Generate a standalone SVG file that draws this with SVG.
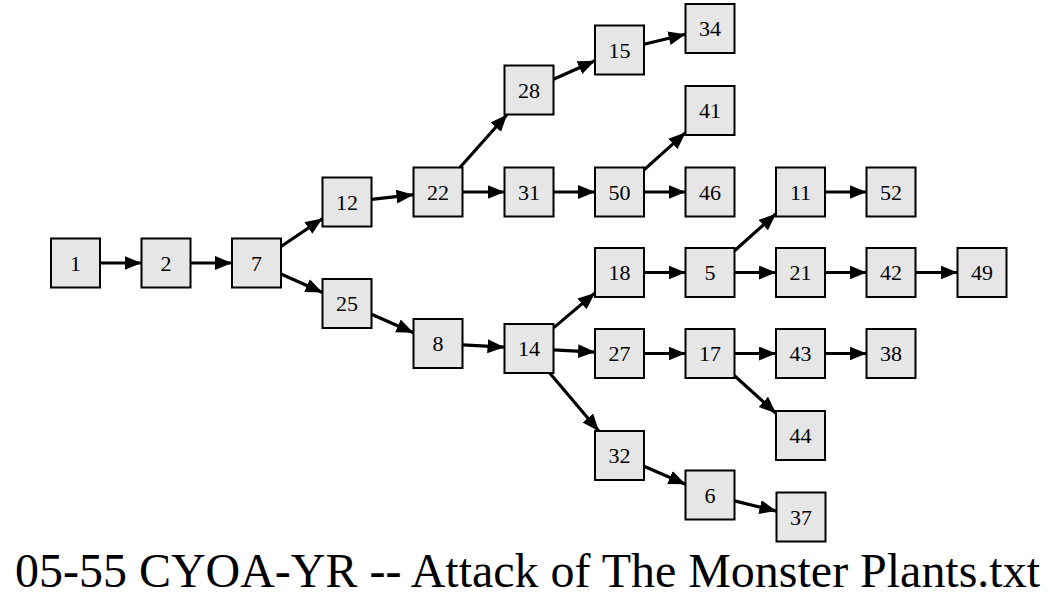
<svg xmlns="http://www.w3.org/2000/svg" width="1058" height="605" viewBox="0 0 1058 605">
<defs>
<marker id="ah" markerUnits="userSpaceOnUse" markerWidth="18" markerHeight="16" refX="17" refY="7" orient="auto" viewBox="0 0 18 16">
<path d="M0,0 L17,7 L0,14 z" fill="#000"/>
</marker>
</defs>
<rect width="1058" height="605" fill="#fff"/>
<g id="edges" stroke="#000" stroke-width="3.2" marker-end="url(#ah)">
<line x1="100" y1="263" x2="141.5" y2="263"/>
<line x1="190.5" y1="263" x2="232" y2="263"/>
<line x1="281" y1="246.5" x2="322.5" y2="218.5"/>
<line x1="281" y1="274" x2="322.5" y2="292.5"/>
<line x1="371.5" y1="199.3" x2="413.5" y2="194.7"/>
<line x1="459.9" y1="167.5" x2="507.1" y2="114.5"/>
<line x1="462.5" y1="192" x2="504.5" y2="192"/>
<line x1="553.5" y1="79.2" x2="595" y2="60.8"/>
<line x1="644" y1="44.2" x2="685.5" y2="34.3"/>
<line x1="553.5" y1="192" x2="595" y2="192"/>
<line x1="644" y1="169.9" x2="685.5" y2="132.6"/>
<line x1="644" y1="192" x2="685.5" y2="192"/>
<line x1="371.5" y1="314.3" x2="413.5" y2="332.7"/>
<line x1="462.5" y1="344.9" x2="504.5" y2="347.2"/>
<line x1="553.5" y1="327.9" x2="595" y2="292.9"/>
<line x1="553.5" y1="349.9" x2="595" y2="352.1"/>
<line x1="549.7" y1="373" x2="598.8" y2="431"/>
<line x1="644" y1="272.5" x2="685.5" y2="272.5"/>
<line x1="734.5" y1="250.7" x2="776" y2="213.8"/>
<line x1="734.5" y1="272.5" x2="776" y2="272.5"/>
<line x1="825" y1="192" x2="866.5" y2="192"/>
<line x1="825" y1="272.5" x2="866.5" y2="272.5"/>
<line x1="915.5" y1="272.5" x2="957.5" y2="272.5"/>
<line x1="644" y1="353.5" x2="685.5" y2="353.5"/>
<line x1="734.5" y1="353.5" x2="776" y2="353.5"/>
<line x1="734.5" y1="375.7" x2="776" y2="413.3"/>
<line x1="825" y1="353.5" x2="866.5" y2="353.5"/>
<line x1="644" y1="466.2" x2="685.5" y2="484.3"/>
<line x1="734.5" y1="500.9" x2="776.5" y2="511.1"/>
</g>
<g id="nodes" font-size="22" text-anchor="middle" fill="#e6e6e6" stroke="#000" stroke-width="2">
<g id="n1"><rect x="51" y="238.5" width="49" height="49"/><text font-family="'Liberation Serif', serif" fill="#000" stroke="none" x="75.5" y="270.5">1</text></g>
<g id="n2"><rect x="141.5" y="238.5" width="49" height="49"/><text font-family="'Liberation Serif', serif" fill="#000" stroke="none" x="166" y="270.5">2</text></g>
<g id="n7"><rect x="232" y="238.5" width="49" height="49"/><text font-family="'Liberation Serif', serif" fill="#000" stroke="none" x="256.5" y="270.5">7</text></g>
<g id="n12"><rect x="322.5" y="177.5" width="49" height="49"/><text font-family="'Liberation Serif', serif" fill="#000" stroke="none" x="347" y="209.5">12</text></g>
<g id="n25"><rect x="322.5" y="279" width="49" height="49"/><text font-family="'Liberation Serif', serif" fill="#000" stroke="none" x="347" y="311">25</text></g>
<g id="n22"><rect x="413.5" y="167.5" width="49" height="49"/><text font-family="'Liberation Serif', serif" fill="#000" stroke="none" x="438" y="199.5">22</text></g>
<g id="n8"><rect x="413.5" y="319" width="49" height="49"/><text font-family="'Liberation Serif', serif" fill="#000" stroke="none" x="438" y="351">8</text></g>
<g id="n28"><rect x="504.5" y="65.5" width="49" height="49"/><text font-family="'Liberation Serif', serif" fill="#000" stroke="none" x="529" y="97.5">28</text></g>
<g id="n31"><rect x="504.5" y="167.5" width="49" height="49"/><text font-family="'Liberation Serif', serif" fill="#000" stroke="none" x="529" y="199.5">31</text></g>
<g id="n14"><rect x="504.5" y="324" width="49" height="49"/><text font-family="'Liberation Serif', serif" fill="#000" stroke="none" x="529" y="356">14</text></g>
<g id="n15"><rect x="595" y="25.5" width="49" height="49"/><text font-family="'Liberation Serif', serif" fill="#000" stroke="none" x="619.5" y="57.5">15</text></g>
<g id="n50"><rect x="595" y="167.5" width="49" height="49"/><text font-family="'Liberation Serif', serif" fill="#000" stroke="none" x="619.5" y="199.5">50</text></g>
<g id="n18"><rect x="595" y="248" width="49" height="49"/><text font-family="'Liberation Serif', serif" fill="#000" stroke="none" x="619.5" y="280">18</text></g>
<g id="n27"><rect x="595" y="329" width="49" height="49"/><text font-family="'Liberation Serif', serif" fill="#000" stroke="none" x="619.5" y="361">27</text></g>
<g id="n32"><rect x="595" y="431" width="49" height="49"/><text font-family="'Liberation Serif', serif" fill="#000" stroke="none" x="619.5" y="463">32</text></g>
<g id="n34"><rect x="685.5" y="4" width="49" height="49"/><text font-family="'Liberation Serif', serif" fill="#000" stroke="none" x="710" y="36">34</text></g>
<g id="n41"><rect x="685.5" y="86" width="49" height="49"/><text font-family="'Liberation Serif', serif" fill="#000" stroke="none" x="710" y="118">41</text></g>
<g id="n46"><rect x="685.5" y="167.5" width="49" height="49"/><text font-family="'Liberation Serif', serif" fill="#000" stroke="none" x="710" y="199.5">46</text></g>
<g id="n5"><rect x="685.5" y="248" width="49" height="49"/><text font-family="'Liberation Serif', serif" fill="#000" stroke="none" x="710" y="280">5</text></g>
<g id="n17"><rect x="685.5" y="329" width="49" height="49"/><text font-family="'Liberation Serif', serif" fill="#000" stroke="none" x="710" y="361">17</text></g>
<g id="n6"><rect x="685.5" y="470.5" width="49" height="49"/><text font-family="'Liberation Serif', serif" fill="#000" stroke="none" x="710" y="502.5">6</text></g>
<g id="n11"><rect x="776" y="167.5" width="49" height="49"/><text font-family="'Liberation Serif', serif" fill="#000" stroke="none" x="800.5" y="199.5">11</text></g>
<g id="n21"><rect x="776" y="248" width="49" height="49"/><text font-family="'Liberation Serif', serif" fill="#000" stroke="none" x="800.5" y="280">21</text></g>
<g id="n43"><rect x="776" y="329" width="49" height="49"/><text font-family="'Liberation Serif', serif" fill="#000" stroke="none" x="800.5" y="361">43</text></g>
<g id="n44"><rect x="776" y="411" width="49" height="49"/><text font-family="'Liberation Serif', serif" fill="#000" stroke="none" x="800.5" y="443">44</text></g>
<g id="n37"><rect x="776.5" y="492.5" width="49" height="49"/><text font-family="'Liberation Serif', serif" fill="#000" stroke="none" x="801" y="524.5">37</text></g>
<g id="n52"><rect x="866.5" y="167.5" width="49" height="49"/><text font-family="'Liberation Serif', serif" fill="#000" stroke="none" x="891" y="199.5">52</text></g>
<g id="n42"><rect x="866.5" y="248" width="49" height="49"/><text font-family="'Liberation Serif', serif" fill="#000" stroke="none" x="891" y="280">42</text></g>
<g id="n38"><rect x="866.5" y="329" width="49" height="49"/><text font-family="'Liberation Serif', serif" fill="#000" stroke="none" x="891" y="361">38</text></g>
<g id="n49"><rect x="957.5" y="248" width="49" height="49"/><text font-family="'Liberation Serif', serif" fill="#000" stroke="none" x="982" y="280">49</text></g>
</g>
<text font-family="'Liberation Serif', serif" font-size="48" x="15" y="587" textLength="1025" lengthAdjust="spacingAndGlyphs">05-55 CYOA-YR -- Attack of The Monster Plants.txt</text>
</svg>
